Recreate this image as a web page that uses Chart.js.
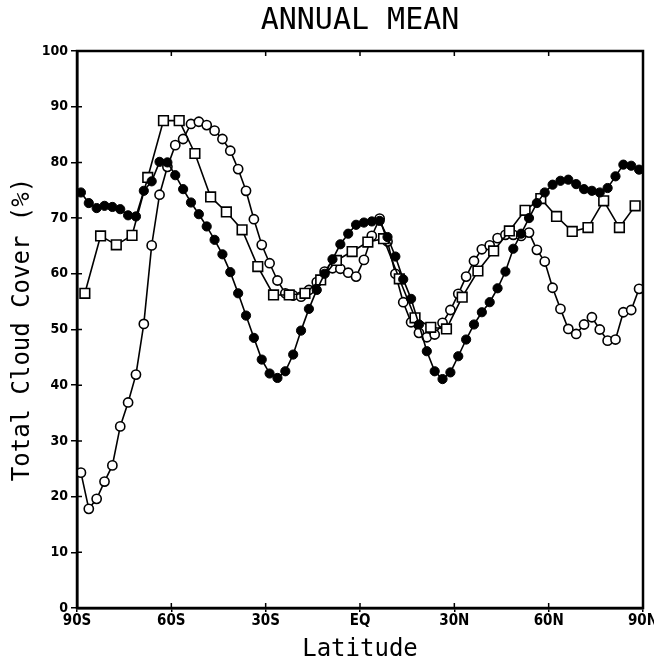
<!DOCTYPE html>
<html>
<head>
<meta charset="utf-8">
<script src="https://cdn.jsdelivr.net/npm/chart.js@4"></script>
<style>
  body { margin: 0; background: #fff; }
  canvas { display: block; }
</style>
</head>
<body>
<canvas id="chart" width="654" height="671"></canvas>
<script>
// 2.5 degree latitude centres, -88.75 .. 88.75
const latFine = [];
for (let k = 0; k < 72; k++) latFine.push(-88.75 + 2.5 * k);
// 5 degree latitude centres, -87.5 .. 87.5
const latCoarse = [];
for (let k = 0; k < 36; k++) latCoarse.push(-87.5 + 5 * k);

const filledValues = [
  74.6, 72.7, 71.8, 72.2, 72.0, 71.6, 70.5, 70.3, 74.9, 76.6,
  80.1, 80.0, 77.7, 75.2, 72.8, 70.7, 68.5, 66.1, 63.5, 60.3,
  56.5, 52.5, 48.5, 44.6, 42.1, 41.3, 42.5, 45.5, 49.8, 53.7,
  57.1, 60.0, 62.6, 65.3, 67.2, 68.8, 69.2, 69.4, 69.5, 66.6,
  63.1, 59.0, 55.5, 50.9, 46.1, 42.5, 41.1, 42.3, 45.2, 48.2,
  50.9, 53.1, 54.9, 57.4, 60.4, 64.5, 67.2, 70.0, 72.7, 74.6,
  76.0, 76.7, 76.9, 76.1, 75.2, 74.9, 74.6, 75.4, 77.5, 79.6,
  79.4, 78.7
];

const openValues = [
  24.3, 17.8, 19.6, 22.7, 25.6, 32.6, 36.9, 41.9, 51.0, 65.1,
  74.2, 79.2, 83.1, 84.2, 86.9, 87.3, 86.7, 85.7, 84.2, 82.1,
  78.8, 74.9, 69.8, 65.2, 61.9, 58.8, 56.5, 56.1, 55.9, 57.1,
  58.5, 60.4, 61.0, 60.9, 60.2, 59.5, 62.5, 66.8, 69.9, 65.8,
  60.0, 54.9, 51.3, 49.4, 48.6, 49.1, 51.2, 53.5, 56.4, 59.5,
  62.3, 64.4, 65.1, 66.4, 67.0, 67.0, 66.8, 67.4, 64.3, 62.2,
  57.5, 53.7, 50.1, 49.2, 50.9, 52.2, 50.0, 48.0, 48.2, 53.1,
  53.5, 57.3
];

const squareValues = [
  56.5, 66.8, 65.2, 66.9, 77.3, 87.5, 87.5, 81.6, 73.8, 71.1,
  67.9, 61.3, 56.2, 56.2, 56.5, 58.9, 62.4, 64.0, 65.7, 66.3,
  59.1, 52.1, 50.4, 50.1, 55.8, 60.5, 64.1, 67.7, 71.4, 73.5,
  70.3, 67.6, 68.3, 73.1, 68.3, 72.2
];

const latTicks = ['90S', '60S', '30S', 'EQ', '30N', '60N', '90N'];

function pairs(xs, ys) {
  return xs.map((x, i) => ({x: x, y: ys[i]}));
}

const tickFont = {family: "'Liberation Sans Narrow', 'DejaVu Sans Condensed', 'Liberation Sans', sans-serif", size: 15, weight: 'bold'};
const monoFont = {family: "'DejaVu Sans Mono', 'Liberation Mono', monospace", size: 24, weight: 'normal'};

// frame and inward ticks
const framePlugin = {
  id: 'frame',
  afterDraw(chart) {
    const {ctx, chartArea: a, scales} = chart;
    ctx.save();
    ctx.strokeStyle = '#000';
    ctx.lineWidth = 2.5;
    ctx.strokeRect(a.left, a.top, a.right - a.left, a.bottom - a.top);
    ctx.lineWidth = 1.5;
    ctx.beginPath();
    scales.y.ticks.forEach(t => {
      const y = scales.y.getPixelForValue(t.value);
      ctx.moveTo(a.left, y);
      ctx.lineTo(a.left + 5, y);
    });
    scales.x.ticks.forEach(t => {
      const x = scales.x.getPixelForValue(t.value);
      ctx.moveTo(x, a.top);
      ctx.lineTo(x, a.top + 5);
      ctx.moveTo(x, a.bottom);
      ctx.lineTo(x, a.bottom - 5);
    });
    ctx.stroke();
    ctx.restore();
  }
};

const ctx = document.getElementById('chart');
new Chart(ctx, {
  type: 'scatter',
  data: {
    datasets: [
      {
        label: 'filled',
        data: pairs(latFine, filledValues),
        showLine: true,
        borderColor: '#000',
        borderWidth: 1.6,
        pointStyle: 'circle',
        pointRadius: 4.6,
        pointBackgroundColor: '#000',
        pointBorderColor: '#000',
        pointBorderWidth: 1
      },
      {
        label: 'squares',
        data: pairs(latCoarse, squareValues),
        showLine: true,
        borderColor: '#000',
        borderWidth: 1.6,
        pointStyle: 'rect',
        pointRadius: 6.8,
        pointBackgroundColor: '#fff',
        pointBorderColor: '#000',
        pointBorderWidth: 1.6
      },
      {
        label: 'open',
        data: pairs(latFine, openValues),
        showLine: true,
        borderColor: '#000',
        borderWidth: 1.6,
        pointStyle: 'circle',
        pointRadius: 4.6,
        pointBackgroundColor: '#fff',
        pointBorderColor: '#000',
        pointBorderWidth: 1.6
      }
    ]
  },
  options: {
    responsive: false,
    animation: false,
    devicePixelRatio: 1,
    layout: {padding: {left: 0, right: 11, top: 0, bottom: 0}},
    plugins: {
      legend: {display: false},
      tooltip: {enabled: false},
      title: {
        display: true,
        text: 'ANNUAL MEAN',
        fullSize: false,
        color: '#000',
        font: {family: "'DejaVu Sans Mono', monospace", size: 30, weight: 'normal', lineHeight: 1.2},
        padding: {top: 3, bottom: 12}
      }
    },
    scales: {
      x: {
        type: 'linear',
        min: -90,
        max: 90,
        afterFit(s) { s.height = 63; s.paddingLeft = 0; s.paddingRight = 0; },
        afterBuildTicks(s) {
          s.ticks = latTicks.map((_, i) => ({value: -90 + 30 * i}));
        },
        ticks: {
          color: '#000',
          font: tickFont,
          padding: 0,
          maxRotation: 0,
          autoSkip: false,
          callback: (v) => latTicks[Math.round((v + 90) / 30)]
        },
        grid: {drawOnChartArea: false, drawTicks: true, tickLength: 4, color: '#000', lineWidth: 1.5},
        border: {display: true, color: '#000', width: 2.5},
        title: {
          display: true,
          text: 'Latitude',
          color: '#000',
          font: monoFont,
          padding: {top: 0, bottom: 7}
        }
      },
      y: {
        min: 0,
        max: 100,
        afterFit(s) { s.width = 77; },
        ticks: {
          stepSize: 10,
          color: '#000',
          font: {family: tickFont.family, size: 14, weight: 'bold'},
          padding: 3
        },
        grid: {drawOnChartArea: false, drawTicks: true, tickLength: 6, color: '#000', lineWidth: 1.5},
        border: {display: true, color: '#000', width: 2.5},
        title: {
          display: true,
          text: 'Total Cloud Cover (%)',
          color: '#000',
          font: monoFont,
          padding: {top: 8, bottom: 0}
        }
      }
    }
  },
  plugins: [framePlugin]
});
</script>
</body>
</html>
